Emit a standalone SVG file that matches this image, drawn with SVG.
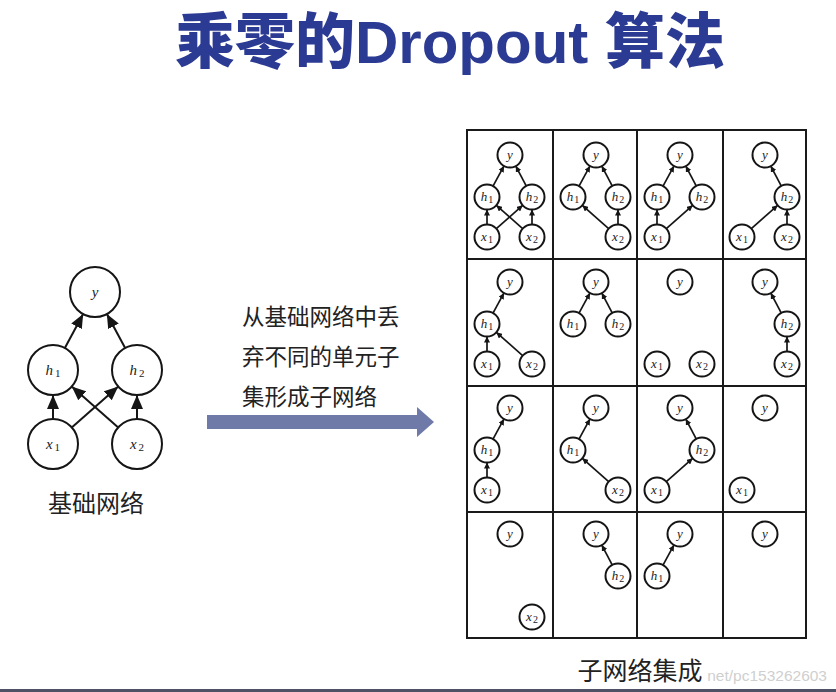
<svg xmlns="http://www.w3.org/2000/svg" xmlns:xlink="http://www.w3.org/1999/xlink" width="836" height="692" viewBox="0 0 836 692">
<style>
.sn circle{fill:#fff;stroke:#151515;stroke-width:2}
.sn text{font-family:'Liberation Serif',serif;font-style:italic;font-size:13px;fill:#222;text-anchor:middle}
.bn circle{fill:#fff;stroke:#151515;stroke-width:2}
.bn text{font-family:'Liberation Serif',serif;font-style:italic;font-size:15px;fill:#222;text-anchor:middle}
.sub{font-style:normal;font-size:10px}
.bsub{font-style:normal;font-size:11px}
.se{stroke:#151515;stroke-width:1.7;fill:none;marker-end:url(#sa)}
.be{stroke:#151515;stroke-width:2;fill:none;marker-end:url(#ba)}
.cj{font-family:'Noto Sans CJK SC',sans-serif;fill:#222}
.grid{stroke:#1a1a1a;stroke-width:2;fill:none}
</style>
<defs>
<marker id="sa" markerUnits="userSpaceOnUse" markerWidth="7" markerHeight="6" refX="6" refY="3" orient="auto"><path d="M0,0 L6,3 L0,6 z" fill="#151515"/></marker>
<marker id="ba" markerUnits="userSpaceOnUse" markerWidth="15" markerHeight="12" refX="14" refY="6" orient="auto"><path d="M0,0 L14,6 L0,12 z" fill="#151515"/></marker>
<path id="ex1h1" class="se" d="M20,93.5 L20,78.5"/>
<path id="ex2h2" class="se" d="M65,93.5 L65,78.5"/>
<path id="ex1h2" class="se" d="M29.34,97.7 L55.66,74.3"/>
<path id="ex2h1" class="se" d="M55.66,97.7 L29.34,74.3"/>
<path id="eh1y" class="se" d="M26,55.04 L37,34.96"/>
<path id="eh2y" class="se" d="M59.2,54.93 L48.8,35.07"/>
</defs>
<rect width="836" height="692" fill="#fff"/>

<text x="450" y="63" text-anchor="middle" font-family="'Liberation Sans','Noto Sans CJK SC',sans-serif" font-weight="900" font-size="60" fill="#2b3a92">乘零的Dropout 算法</text>

<!-- base network -->
<g id="base-connectors">
<path class="be" d="M53,419 L53,395"/>
<path class="be" d="M137,419 L137,395"/>
<path class="be" d="M71.76,427.48 L118.24,386.52"/>
<path class="be" d="M118.24,427.48 L71.76,386.52"/>
<path class="be" d="M64.85,348 L83.15,314"/>
<path class="be" d="M125.15,348 L106.85,314"/>
</g>
<g id="base-y" class="bn" transform="translate(95,292)"><circle r="25"/><text y="5">y</text></g>
<g id="base-h1" class="bn" transform="translate(53,370)"><circle r="25"/><text y="5">h<tspan class="bsub" dx="2" dy="2">1</tspan></text></g>
<g id="base-h2" class="bn" transform="translate(137,370)"><circle r="25"/><text y="5">h<tspan class="bsub" dx="2" dy="2">2</tspan></text></g>
<g id="base-x1" class="bn" transform="translate(53,444)"><circle r="25"/><text y="5">x<tspan class="bsub" dx="2" dy="2">1</tspan></text></g>
<g id="base-x2" class="bn" transform="translate(137,444)"><circle r="25"/><text y="5">x<tspan class="bsub" dx="2" dy="2">2</tspan></text></g>
<text class="cj" x="96" y="512" font-size="24" text-anchor="middle">基础网络</text>

<!-- middle text and arrow -->
<text class="cj" x="242" y="325" font-size="22.5">从基础网络中丢</text>
<text class="cj" x="242" y="365" font-size="22.5">弃不同的单元子</text>
<text class="cj" x="242" y="405" font-size="22.5">集形成子网络</text>
<polygon id="big-arrow" points="207,415 417,415 417,407 434,422 417,437 417,429 207,429" fill="#6f7aa8"/>

<!-- grid -->
<g id="grid">
<rect class="grid" x="467" y="130" width="339" height="508"/>
<path class="grid" d="M553,130 V638 M637,130 V638 M723,130 V638 M467,259 H806 M467,386 H806 M467,512 H806"/>
</g>

<g id="connectors">
<g transform="translate(467,131)"><use href="#ex1h1"/><use href="#ex1h2"/><use href="#ex2h1"/><use href="#ex2h2"/><use href="#eh1y"/><use href="#eh2y"/></g>
<g transform="translate(553,131)"><use href="#ex2h1"/><use href="#ex2h2"/><use href="#eh1y"/><use href="#eh2y"/></g>
<g transform="translate(637,131)"><use href="#ex1h1"/><use href="#ex1h2"/><use href="#eh1y"/><use href="#eh2y"/></g>
<g transform="translate(722,131)"><use href="#ex1h2"/><use href="#ex2h2"/><use href="#eh2y"/></g>
<g transform="translate(467,258)"><use href="#ex1h1"/><use href="#ex2h1"/><use href="#eh1y"/></g>
<g transform="translate(553,258)"><use href="#eh1y"/><use href="#eh2y"/></g>
<g transform="translate(722,258)"><use href="#ex2h2"/><use href="#eh2y"/></g>
<g transform="translate(467,384)"><use href="#ex1h1"/><use href="#eh1y"/></g>
<g transform="translate(553,384)"><use href="#ex2h1"/><use href="#eh1y"/></g>
<g transform="translate(637,384)"><use href="#ex1h2"/><use href="#eh2y"/></g>
<g transform="translate(553,510)"><use href="#eh2y"/></g>
<g transform="translate(637,510)"><use href="#eh1y"/></g>
</g>

<!-- row 1 -->
<g id="r1c1-y" class="sn" transform="translate(510,155)"><circle r="12.5"/><text y="4">y</text></g>
<g id="r1c1-h1" class="sn" transform="translate(487,197)"><circle r="12.5"/><text y="4">h<tspan class="sub" dx="1" dy="2">1</tspan></text></g>
<g id="r1c1-h2" class="sn" transform="translate(532,197)"><circle r="12.5"/><text y="4">h<tspan class="sub" dx="1" dy="2">2</tspan></text></g>
<g id="r1c1-x1" class="sn" transform="translate(487,237)"><circle r="12.5"/><text y="4">x<tspan class="sub" dx="1" dy="2">1</tspan></text></g>
<g id="r1c1-x2" class="sn" transform="translate(532,237)"><circle r="12.5"/><text y="4">x<tspan class="sub" dx="1" dy="2">2</tspan></text></g>

<g id="r1c2-y" class="sn" transform="translate(596,155)"><circle r="12.5"/><text y="4">y</text></g>
<g id="r1c2-h1" class="sn" transform="translate(573,197)"><circle r="12.5"/><text y="4">h<tspan class="sub" dx="1" dy="2">1</tspan></text></g>
<g id="r1c2-h2" class="sn" transform="translate(618,197)"><circle r="12.5"/><text y="4">h<tspan class="sub" dx="1" dy="2">2</tspan></text></g>
<g id="r1c2-x2" class="sn" transform="translate(618,237)"><circle r="12.5"/><text y="4">x<tspan class="sub" dx="1" dy="2">2</tspan></text></g>

<g id="r1c3-y" class="sn" transform="translate(680,155)"><circle r="12.5"/><text y="4">y</text></g>
<g id="r1c3-h1" class="sn" transform="translate(657,197)"><circle r="12.5"/><text y="4">h<tspan class="sub" dx="1" dy="2">1</tspan></text></g>
<g id="r1c3-h2" class="sn" transform="translate(702,197)"><circle r="12.5"/><text y="4">h<tspan class="sub" dx="1" dy="2">2</tspan></text></g>
<g id="r1c3-x1" class="sn" transform="translate(657,237)"><circle r="12.5"/><text y="4">x<tspan class="sub" dx="1" dy="2">1</tspan></text></g>

<g id="r1c4-y" class="sn" transform="translate(765,155)"><circle r="12.5"/><text y="4">y</text></g>
<g id="r1c4-h2" class="sn" transform="translate(787,197)"><circle r="12.5"/><text y="4">h<tspan class="sub" dx="1" dy="2">2</tspan></text></g>
<g id="r1c4-x1" class="sn" transform="translate(742,237)"><circle r="12.5"/><text y="4">x<tspan class="sub" dx="1" dy="2">1</tspan></text></g>
<g id="r1c4-x2" class="sn" transform="translate(787,237)"><circle r="12.5"/><text y="4">x<tspan class="sub" dx="1" dy="2">2</tspan></text></g>

<!-- row 2 -->
<g id="r2c1-y" class="sn" transform="translate(510,282)"><circle r="12.5"/><text y="4">y</text></g>
<g id="r2c1-h1" class="sn" transform="translate(487,324)"><circle r="12.5"/><text y="4">h<tspan class="sub" dx="1" dy="2">1</tspan></text></g>
<g id="r2c1-x1" class="sn" transform="translate(487,364)"><circle r="12.5"/><text y="4">x<tspan class="sub" dx="1" dy="2">1</tspan></text></g>
<g id="r2c1-x2" class="sn" transform="translate(532,364)"><circle r="12.5"/><text y="4">x<tspan class="sub" dx="1" dy="2">2</tspan></text></g>

<g id="r2c2-y" class="sn" transform="translate(596,282)"><circle r="12.5"/><text y="4">y</text></g>
<g id="r2c2-h1" class="sn" transform="translate(573,324)"><circle r="12.5"/><text y="4">h<tspan class="sub" dx="1" dy="2">1</tspan></text></g>
<g id="r2c2-h2" class="sn" transform="translate(618,324)"><circle r="12.5"/><text y="4">h<tspan class="sub" dx="1" dy="2">2</tspan></text></g>

<g id="r2c3-y" class="sn" transform="translate(680,282)"><circle r="12.5"/><text y="4">y</text></g>
<g id="r2c3-x1" class="sn" transform="translate(657,364)"><circle r="12.5"/><text y="4">x<tspan class="sub" dx="1" dy="2">1</tspan></text></g>
<g id="r2c3-x2" class="sn" transform="translate(702,364)"><circle r="12.5"/><text y="4">x<tspan class="sub" dx="1" dy="2">2</tspan></text></g>

<g id="r2c4-y" class="sn" transform="translate(765,282)"><circle r="12.5"/><text y="4">y</text></g>
<g id="r2c4-h2" class="sn" transform="translate(787,324)"><circle r="12.5"/><text y="4">h<tspan class="sub" dx="1" dy="2">2</tspan></text></g>
<g id="r2c4-x2" class="sn" transform="translate(787,364)"><circle r="12.5"/><text y="4">x<tspan class="sub" dx="1" dy="2">2</tspan></text></g>

<!-- row 3 -->
<g id="r3c1-y" class="sn" transform="translate(510,408)"><circle r="12.5"/><text y="4">y</text></g>
<g id="r3c1-h1" class="sn" transform="translate(487,450)"><circle r="12.5"/><text y="4">h<tspan class="sub" dx="1" dy="2">1</tspan></text></g>
<g id="r3c1-x1" class="sn" transform="translate(487,490)"><circle r="12.5"/><text y="4">x<tspan class="sub" dx="1" dy="2">1</tspan></text></g>

<g id="r3c2-y" class="sn" transform="translate(596,408)"><circle r="12.5"/><text y="4">y</text></g>
<g id="r3c2-h1" class="sn" transform="translate(573,450)"><circle r="12.5"/><text y="4">h<tspan class="sub" dx="1" dy="2">1</tspan></text></g>
<g id="r3c2-x2" class="sn" transform="translate(618,490)"><circle r="12.5"/><text y="4">x<tspan class="sub" dx="1" dy="2">2</tspan></text></g>

<g id="r3c3-y" class="sn" transform="translate(680,408)"><circle r="12.5"/><text y="4">y</text></g>
<g id="r3c3-h2" class="sn" transform="translate(702,450)"><circle r="12.5"/><text y="4">h<tspan class="sub" dx="1" dy="2">2</tspan></text></g>
<g id="r3c3-x1" class="sn" transform="translate(657,490)"><circle r="12.5"/><text y="4">x<tspan class="sub" dx="1" dy="2">1</tspan></text></g>

<g id="r3c4-y" class="sn" transform="translate(765,408)"><circle r="12.5"/><text y="4">y</text></g>
<g id="r3c4-x1" class="sn" transform="translate(742,490)"><circle r="12.5"/><text y="4">x<tspan class="sub" dx="1" dy="2">1</tspan></text></g>

<!-- row 4 -->
<g id="r4c1-y" class="sn" transform="translate(510,534)"><circle r="12.5"/><text y="4">y</text></g>
<g id="r4c1-x2" class="sn" transform="translate(532,617)"><circle r="12.5"/><text y="4">x<tspan class="sub" dx="1" dy="2">2</tspan></text></g>

<g id="r4c2-y" class="sn" transform="translate(596,534)"><circle r="12.5"/><text y="4">y</text></g>
<g id="r4c2-h2" class="sn" transform="translate(618,576)"><circle r="12.5"/><text y="4">h<tspan class="sub" dx="1" dy="2">2</tspan></text></g>

<g id="r4c3-y" class="sn" transform="translate(680,534)"><circle r="12.5"/><text y="4">y</text></g>
<g id="r4c3-h1" class="sn" transform="translate(657,576)"><circle r="12.5"/><text y="4">h<tspan class="sub" dx="1" dy="2">1</tspan></text></g>

<g id="r4c4-y" class="sn" transform="translate(765,534)"><circle r="12.5"/><text y="4">y</text></g>

<!-- bottom -->
<text x="827" y="681" text-anchor="end" font-family="'Liberation Sans',sans-serif" font-size="15.5" fill="#cfcfcf">net/pc153262603</text>
<text class="cj" x="640" y="680" font-size="25" text-anchor="middle">子网络集成</text>
<rect x="0" y="689" width="836" height="3" fill="#4d5266"/>
</svg>
